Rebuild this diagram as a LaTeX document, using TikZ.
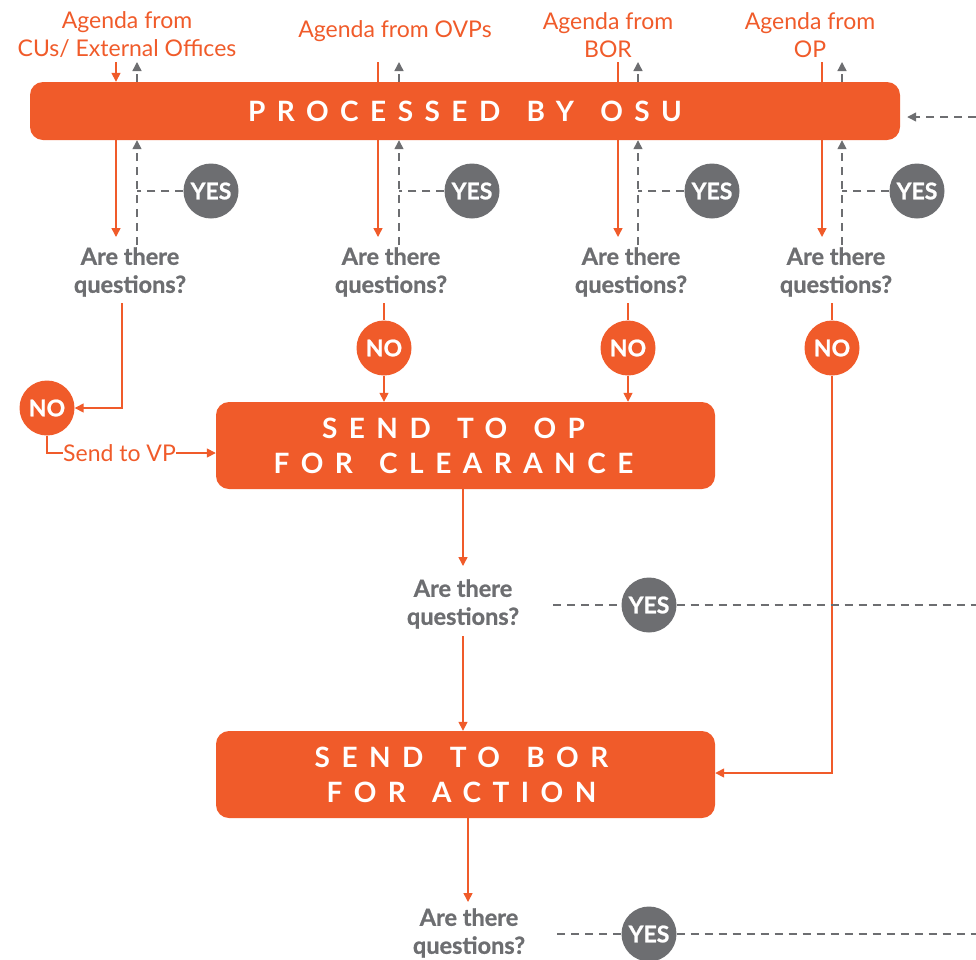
\documentclass[tikz,border=0pt]{standalone}
\usepackage{fontspec}
\setmainfont{Lato}
\usetikzlibrary{arrows.meta}
\definecolor{org}{RGB}{240,91,42}
\definecolor{gry}{RGB}{109,110,113}
\newcommand\wsp{\hspace{8pt}}
\begin{document}
\begin{tikzpicture}[x=1pt,y=-1pt,
  bigbox/.style={fill=org, rounded corners=13pt, inner sep=0pt, text=white,
    font=\fontsize{28}{35}\selectfont\bfseries\addfontfeature{LetterSpace=41}, align=center},
  agenda/.style={text=org, font=\fontsize{23}{28}\selectfont, align=center, inner sep=0pt},
  quest/.style={text=gry, font=\fontsize{23.5}{28}\selectfont\bfseries\addfontfeature{FakeBold=1}, align=center, inner sep=0pt},
  yes/.style={circle, fill=gry, minimum size=55pt, inner sep=0pt, text=white, font=\fontsize{23}{23}\selectfont\bfseries\addfontfeature{FakeBold=1}},
  no/.style={circle, fill=org, minimum size=55pt, inner sep=0pt, text=white, font=\fontsize{23}{23}\selectfont\bfseries\addfontfeature{FakeBold=1}},
  oline/.style={draw=org, line width=1.5pt},
  oarr/.style={oline, -{Triangle[length=9pt,width=9pt]}},
  gline/.style={draw=gry, line width=1.4pt, dash pattern=on 8pt off 6pt},
  garr/.style={gline, -{Triangle[length=9pt,width=9pt]}},
]
\useasboundingbox (0,0) rectangle (976,959);

% boxes
\node[bigbox, minimum width=870pt, minimum height=58pt] (osu) at (465,111) {PROCESSED\wsp{} BY\wsp{} OSU};
\node[bigbox, minimum width=499pt, minimum height=87pt] (op) at (465.5,445.5) {SEND\wsp{} TO\wsp{} OP\kern24pt\\FOR\wsp{} CLEARANCE\kern24pt};
\node[bigbox, minimum width=499pt, minimum height=87pt] (bor) at (465.5,774.5) {SEND\wsp{} TO\wsp{} BOR\kern8pt\\FOR\wsp{} ACTION\kern8pt};

% agenda labels
\node[agenda] (l1) at (127,35) {Agenda from\\CUs/ External Offices};
\node[agenda] (l2) at (395,31) {Agenda from OVPs};
\node[agenda] (l3) at (608,35) {Agenda from\\BOR};
\node[agenda] (l4) at (810,35) {Agenda from\\OP};

% questions
\node[quest] (q1) at (130,272) {Are there\\questions?};
\node[quest] (q2) at (391,272) {Are there\\questions?};
\node[quest] (q3) at (631,272) {Are there\\questions?};
\node[quest] (q4) at (836,272) {Are there\\questions?};
\node[quest] (q5) at (463,604) {Are there\\questions?};
\node[quest] (q6) at (469,933) {Are there\\questions?};

% yes circles
\node[yes] (y1) at (211,191) {YES};
\node[yes] (y2) at (472,191) {YES};
\node[yes] (y3) at (712,191) {YES};
\node[yes] (y4) at (917,191) {YES};
\node[yes] (y5) at (649,605) {YES};
\node[yes] (y6) at (649,934) {YES};

% no circles
\node[no] (n1) at (47,408) {NO};
\node[no] (n2) at (384,348) {NO};
\node[no] (n3) at (628,348) {NO};
\node[no] (n4) at (832,348) {NO};

\node[agenda, anchor=west] (vp) at (63,453) {Send to VP};

% column coordinates
\coordinate (o1) at (116,62);  \coordinate (g1) at (137,62);
\coordinate (o2) at (378,62);  \coordinate (g2) at (399,62);
\coordinate (o3) at (618,62);  \coordinate (g3) at (638,62);
\coordinate (o4) at (822,62);  \coordinate (g4) at (842,62);
\coordinate (ob) at (0,237);   \coordinate (gb) at (0,245);
\coordinate (qb) at (0,303);

% incoming agenda lines
\draw[oarr] (o1) -- (osu.north -| o1);
\draw[oline] (o2) -- (osu.north -| o2);
\draw[oline] (o3) -- (osu.north -| o3);
\draw[oline] (o4) -- (osu.north -| o4);
\foreach \g in {g1,g2,g3,g4} {
  \draw[garr] (osu.north -| \g) -- (\g);
  \draw[garr] (gb -| \g) -- (osu.south -| \g);
}
\foreach \o in {o1,o2,o3,o4} {
  \draw[oarr] (osu.south -| \o) -- (ob -| \o);
}
\draw[gline] (y1.west) -- (y1.west -| g1);
\draw[gline] (y2.west) -- (y2.west -| g2);
\draw[gline] (y3.west) -- (y3.west -| g3);
\draw[gline] (y4.west) -- (y4.west -| g4);

% col 1 NO path
\coordinate (c1) at (122,303);
\draw[oarr] (c1) |- (n1.east);
\draw[oline] (n1.south) |- (vp.west);
\draw[oarr] (vp.east) -- (op.west |- vp.east);

% col 2 & 3
\draw[oline] (qb -| n2) -- (n2.north);
\draw[oarr] (n2.south) -- (op.north -| n2);
\draw[oline] (qb -| n3) -- (n3.north);
\draw[oarr] (n3.south) -- (op.north -| n3);
% col 4
\draw[oline] (qb -| n4) -- (n4.north);
\coordinate (c4) at (832,773);
\draw[oarr] (n4.south) -- (c4) -- (bor.east |- c4);

% middle chain
\coordinate (x5) at (463,566);
\draw[oarr] (op.south -| x5) -- (x5);
\coordinate (x5b) at (463,636);
\draw[oarr] (x5b) -- (bor.north -| x5b);
\coordinate (x6) at (468,902);
\draw[oarr] (bor.south -| x6) -- (x6);

% right dashed lines
\coordinate (d5) at (553,605); \coordinate (e5) at (976,605);
\draw[gline] (d5) -- (y5.west);
\draw[gline] (y5.east) -- (e5);
\coordinate (d6) at (557,934); \coordinate (e6) at (976,934);
\draw[gline] (d6) -- (y6.west);
\draw[gline] (y6.east) -- (e6);
\coordinate (rt) at (976,117);
\draw[garr] (rt) -- ([xshift=7pt]osu.east |- rt);
\end{tikzpicture}
\end{document}
